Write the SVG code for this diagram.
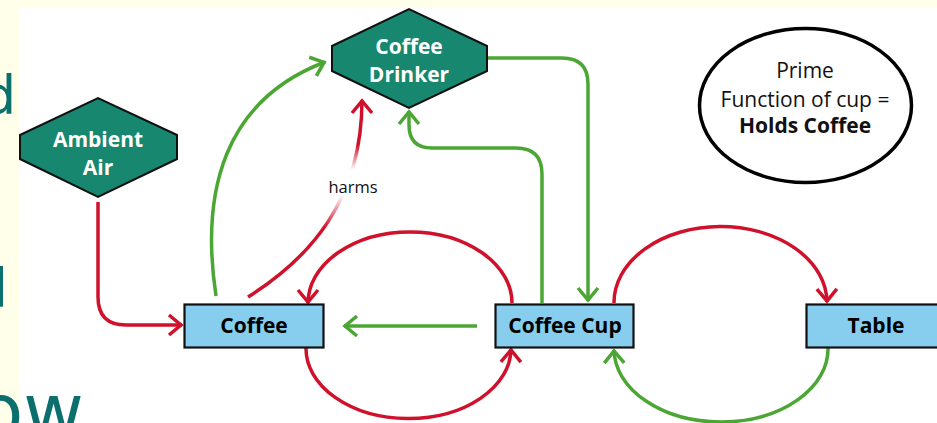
<svg xmlns="http://www.w3.org/2000/svg" width="937" height="423" viewBox="0 0 937 423">
  <defs>
    <style>
      .hex { fill: #17876f; stroke: #111; stroke-width: 2; }
      .box { fill: #87ceee; stroke: #111; stroke-width: 2.2; }
      .hexlbl { font-family: "Open Sans", "Liberation Sans", sans-serif; font-weight: 700; font-size: 21px; fill: #fff; text-anchor: middle; }
      .boxlbl { font-family: "Open Sans", "Liberation Sans", sans-serif; font-weight: 700; font-size: 21px; fill: #000; text-anchor: middle; }
      .note { font-family: "Open Sans", "Liberation Sans", sans-serif; font-size: 21px; fill: #111; text-anchor: middle; }
      .slide { font-family: "DejaVu Sans", sans-serif; fill: #0b6f6e; }
      .red { fill: none; stroke: #d0112b; stroke-width: 3.5; }
      .green { fill: none; stroke: #4ba633; stroke-width: 3.5; }
    </style>
    <marker id="ar" markerUnits="userSpaceOnUse" markerWidth="30" markerHeight="30" viewBox="-16 -15 20 30" refX="1" refY="0" orient="auto">
      <path d="M-12 -10 L0 0 L-12 10" fill="none" stroke="#d0112b" stroke-width="3.5"/>
    </marker>
    <marker id="ag" markerUnits="userSpaceOnUse" markerWidth="30" markerHeight="30" viewBox="-16 -15 20 30" refX="1" refY="0" orient="auto">
      <path d="M-12 -10 L0 0 L-12 10" fill="none" stroke="#4ba633" stroke-width="3.5"/>
    </marker>
    <linearGradient id="fade" gradientUnits="userSpaceOnUse" x1="0" y1="145" x2="0" y2="228">
      <stop offset="0" stop-color="#d0112b" stop-opacity="1"/>
      <stop offset="0.3" stop-color="#d0112b" stop-opacity="0"/>
      <stop offset="0.6" stop-color="#d0112b" stop-opacity="0"/>
      <stop offset="1" stop-color="#d0112b" stop-opacity="1"/>
    </linearGradient>
  </defs>

  <rect x="0" y="0" width="937" height="423" fill="#ffffea"/>
  <rect x="20" y="8" width="917" height="415" fill="#ffffff"/>

  <text class="slide" x="-17.4" y="114" font-size="53">d</text>
  <text class="slide" x="-6.8" y="307" font-size="53">l</text>
  <text class="slide" x="-22" y="437" font-size="74">ow</text>

  <g id="connectors">
    <path class="red" d="M98 202 V297 Q98 325 126 325 H182" marker-end="url(#ar)"/>
    <path class="green" d="M216 296 C200 190 225 100 325 62" marker-end="url(#ag)"/>
    <path fill="none" stroke="url(#fade)" stroke-width="3.5" d="M248 297 C310 258 362 200 362 100" marker-end="url(#ar)"/>
    <path class="green" d="M542 303 V174 Q542 148 516 148 H432 Q409 148 409 125 V111" marker-end="url(#ag)"/>
    <path class="green" d="M487 58 H562 Q588 58 588 84 V301" marker-end="url(#ag)"/>
    <path class="green" d="M477 326 H344" marker-end="url(#ag)"/>
    <path class="red" d="M512 303 A102 71 0 0 0 308 303" marker-end="url(#ar)"/>
    <path class="red" d="M306 348 A102.5 70 0 0 0 511 349" marker-end="url(#ar)"/>
    <path class="red" d="M614 303 A106.5 76 0 0 1 827 302" marker-end="url(#ar)"/>
    <path class="green" d="M828 348 A107 73 0 0 1 614 350" marker-end="url(#ag)"/>
    <text x="353" y="193" font-family="Open Sans, Liberation Sans, sans-serif" font-size="16.5" fill="#111" text-anchor="middle">harms</text>
  </g>

  <g id="ambient-air">
    <polygon class="hex" points="20,135 98,98 177,135 177,159 98,197 20,159"/>
    <text class="hexlbl" x="98" y="146.5">Ambient</text>
    <text class="hexlbl" x="98" y="175">Air</text>
  </g>

  <g id="coffee-drinker">
    <polygon class="hex" points="332,46 409,9 487,46 487,71 409,108 332,71"/>
    <text class="hexlbl" x="409" y="54">Coffee</text>
    <text class="hexlbl" x="409" y="81.5">Drinker</text>
  </g>

  <g id="prime-function">
    <ellipse cx="805.5" cy="105.5" rx="106" ry="77" fill="#fff" stroke="#000" stroke-width="3.5"/>
    <text class="note" x="805" y="78.3">Prime</text>
    <text class="note" x="805" y="106.7">Function of cup =</text>
    <text class="note" x="805" y="133.3" font-weight="700">Holds Coffee</text>
  </g>

  <g id="coffee">
    <rect class="box" x="184.5" y="304.5" width="139" height="43"/>
    <text class="boxlbl" x="254" y="333">Coffee</text>
  </g>

  <g id="coffee-cup">
    <rect class="box" x="495.5" y="304.5" width="138" height="43"/>
    <text class="boxlbl" x="565" y="333">Coffee Cup</text>
  </g>

  <g id="table">
    <rect class="box" x="806.5" y="304.5" width="139" height="43"/>
    <text class="boxlbl" x="876" y="333">Table</text>
  </g>
</svg>
